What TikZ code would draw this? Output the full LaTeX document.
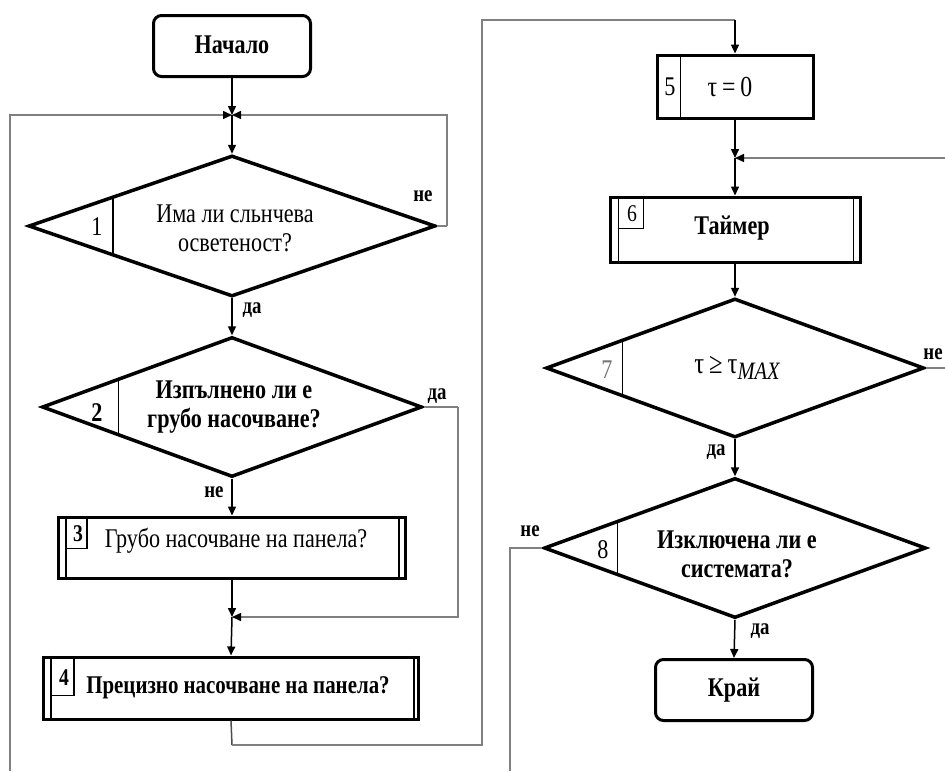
\documentclass[tikz,border=0pt]{standalone}
\usepackage{fontspec}
\setmainfont[FakeStretch=0.82]{Liberation Serif}
\usetikzlibrary{shapes.geometric,arrows.meta,calc}
\begin{document}
\begin{tikzpicture}[x=1pt,y=-1pt,
  txt/.style={font=\fontsize{27}{29}\selectfont, align=center, inner sep=0pt},
  btxt/.style={txt, font=\fontsize{27}{29}\selectfont\bfseries},
  lbl/.style={font=\fontsize{23}{25}\selectfont\bfseries, inner sep=0pt},
  term/.style={draw, line width=3pt, rounded corners=8pt, minimum width=157pt, minimum height=61pt, inner sep=0pt},
  dec/.style={draw, diamond, line width=3.5pt, inner sep=0pt},
  proc/.style={draw, rectangle, line width=3pt, inner sep=0pt},
  thin/.style={line width=1.2pt},
  flow/.style={line width=1.5pt, -{Triangle[length=9pt,width=8pt]}},
  plain/.style={line width=1.5pt},
  loopline/.style={line width=1.5pt, draw=black!50},
  looparr/.style={line width=1.5pt, draw=black!50, -{Triangle[length=9pt,width=8pt,color=black]}}
]
\useasboundingbox (0,0) rectangle (945,771);
\fill[white] (0,0) rectangle (945,771);

% ---- left column ----
\node[term] (start) at (232,46) {};
\node[btxt] (starttxt) at (232,45) {Начало};
\coordinate (j1) at (232,115);

\node[dec, minimum width=407pt, minimum height=141pt] (d1) at (232,226) {};
\draw[thin] ($(d1.west)!0.42!(d1.north)$) -- ($(d1.west)!0.42!(d1.south)$);
\node[txt] (n1) at (97,227) {1};
\node[txt] (d1txt) at (235,228) {Има ли сльнчева\\осветеност?};

\node[dec, minimum width=380pt, minimum height=140pt] (d2) at (232,407) {};
\draw[thin] ($(d2.west)!0.41!(d2.north)$) -- ($(d2.west)!0.41!(d2.south)$);
\node[btxt] (n2) at (97,413) {2};
\node[btxt] (d2txt) at (234,407) {Изпълнено ли е\\грубо насочване?};

\node[proc, minimum width=347pt, minimum height=61pt] (b3) at (232,547.5) {};
\draw[thin] ($(b3.north west)+(9,0)$) -- ($(b3.south west)+(9,0)$);
\draw[thin] ($(b3.north east)+(-8,0)$) -- ($(b3.south east)+(-8,0)$);
\draw[thin] ($(b3.north west)+(30,0)$) -- ($(b3.north west)+(30,33)$) -- ($(b3.north west)+(9,33)$);
\node[btxt, font=\fontsize{24}{26}\selectfont\bfseries] (n3) at (78,534) {3};
\node[txt] (b3txt) at (236,541) {Грубо насочване на панела?};
\coordinate (j2) at (232,617);

\node[proc, minimum width=375pt, minimum height=62pt] (b4) at (231,688) {};
\draw[thin] ($(b4.north west)+(9,0)$) -- ($(b4.south west)+(9,0)$);
\draw[thin] ($(b4.north east)+(-6,0)$) -- ($(b4.south east)+(-6,0)$);
\draw[thin] ($(b4.north west)+(32,0)$) -- ($(b4.north west)+(32,40)$) -- ($(b4.north west)+(9,40)$);
\node[btxt, font=\fontsize{24}{26}\selectfont\bfseries] (n4) at (64,678) {4};
\node[btxt, font=\fontsize{25.5}{28}\selectfont\bfseries] (b4txt) at (238,688) {Прецизно насочване на панела?};

% ---- right column ----
\node[proc, minimum width=156pt, minimum height=63pt] (b5) at (735,86.5) {};
\draw[thin] ($(b5.north west)+(25,0)$) -- ($(b5.south west)+(25,0)$);
\node[txt] (n5) at (670,87) {5};
\node[txt, font=\fontsize{29}{31}\selectfont] (b5txt) at (730,87) {τ\,=\,0};
\coordinate (j3) at (735,158);

\node[proc, minimum width=250pt, minimum height=65pt] (b6) at (735,229.5) {};
\draw[thin] ($(b6.north west)+(10,0)$) -- ($(b6.south west)+(10,0)$);
\draw[thin] ($(b6.north east)+(-8,0)$) -- ($(b6.south east)+(-8,0)$);
\draw[thin] ($(b6.north west)+(35,0)$) -- ($(b6.north west)+(35,33)$) -- ($(b6.north west)+(10,33)$);
\node[txt, font=\fontsize{24}{26}\selectfont] (n6) at (632,214) {6};
\node[btxt] (b6txt) at (732,228) {Таймер};

\node[dec, minimum width=378pt, minimum height=139pt] (d7) at (735,368) {};
\draw[thin] ($(d7.west)!0.41!(d7.north)$) -- ($(d7.west)!0.41!(d7.south)$);
\node[txt, text=black!55] (n7) at (607,370) {7};
\node[txt, font=\fontsize{30}{32}\selectfont] (d7txt) at (737,368) {τ\,≥\,τ\raisebox{-0.4ex}{\fontsize{25}{25}\selectfont\itshape MAX}};

\node[dec, minimum width=382pt, minimum height=140pt] (d8) at (735,548) {};
\draw[thin] ($(d8.west)!0.39!(d8.north)$) -- ($(d8.west)!0.39!(d8.south)$);
\node[txt] (n8) at (603,550) {8};
\node[btxt] (d8txt) at (737,554) {Изключена ли е\\системата?};

\node[term] (end) at (734,690) {};
\node[btxt] (endtxt) at (734,690) {Край};

% ---- connectors ----
\draw[flow] (start) -- (j1);
\draw[flow] (j1) -- (d1.north);
\coordinate (lb) at (10,771);
\draw[looparr] (lb) |- (j1);
\coordinate (r0) at (447,226);
\draw[loopline] (d1.east) -- (r0);
\draw[looparr] (r0) |- (j1);

\draw[flow] (d1.south) -- (d2.north);
\draw[flow] (d2.south) -- (b3.north);
\coordinate (r2a) at (458,407);
\draw[loopline] (d2.east) -- (r2a);
\draw[looparr] (r2a) |- (j2);
\draw[flow] (b3.south) -- (j2);
\draw[flow] (j2) -- (b4.north);

\coordinate (c1) at (232,745);
\coordinate (c2) at (482,745);
\coordinate (c3) at (482,20);
\coordinate (c4) at (735,20);
\draw[plain, draw=black!70] (b4.south) -- (c1);
\draw[loopline] (c1) -- (c2) -- (c3) -- (c4);
\draw[flow] (c4) -- (b5.north);

\draw[flow] (b5.south) -- (j3);
\coordinate (r1) at (945,158);
\draw[looparr] (r1) -- (j3);
\draw[flow] (j3) -- (b6.north);
\draw[flow] (b6.south) -- (d7.north);
\coordinate (r3) at (945,368);
\draw[loopline] (d7.east) -- (r3);
\draw[flow] (d7.south) -- (d8.north);
\coordinate (l8a) at (510,548);
\coordinate (l8b) at (510,771);
\draw[loopline] (d8.west) -- (l8a) -- (l8b);
\draw[flow] (d8.south) -- (end.north);

% ---- labels ----
\node[lbl] (la) at (423,196) {не};
\node[lbl] (lb2) at (252,310) {да};
\node[lbl] (lc) at (437,396) {да};
\node[lbl] (ld) at (214,492) {не};
\node[lbl] (le) at (933,354) {не};
\node[lbl] (lf) at (716,452) {да};
\node[lbl] (lg) at (530,531) {не};
\node[lbl] (lh) at (760,631) {да};
\end{tikzpicture}
\end{document}
